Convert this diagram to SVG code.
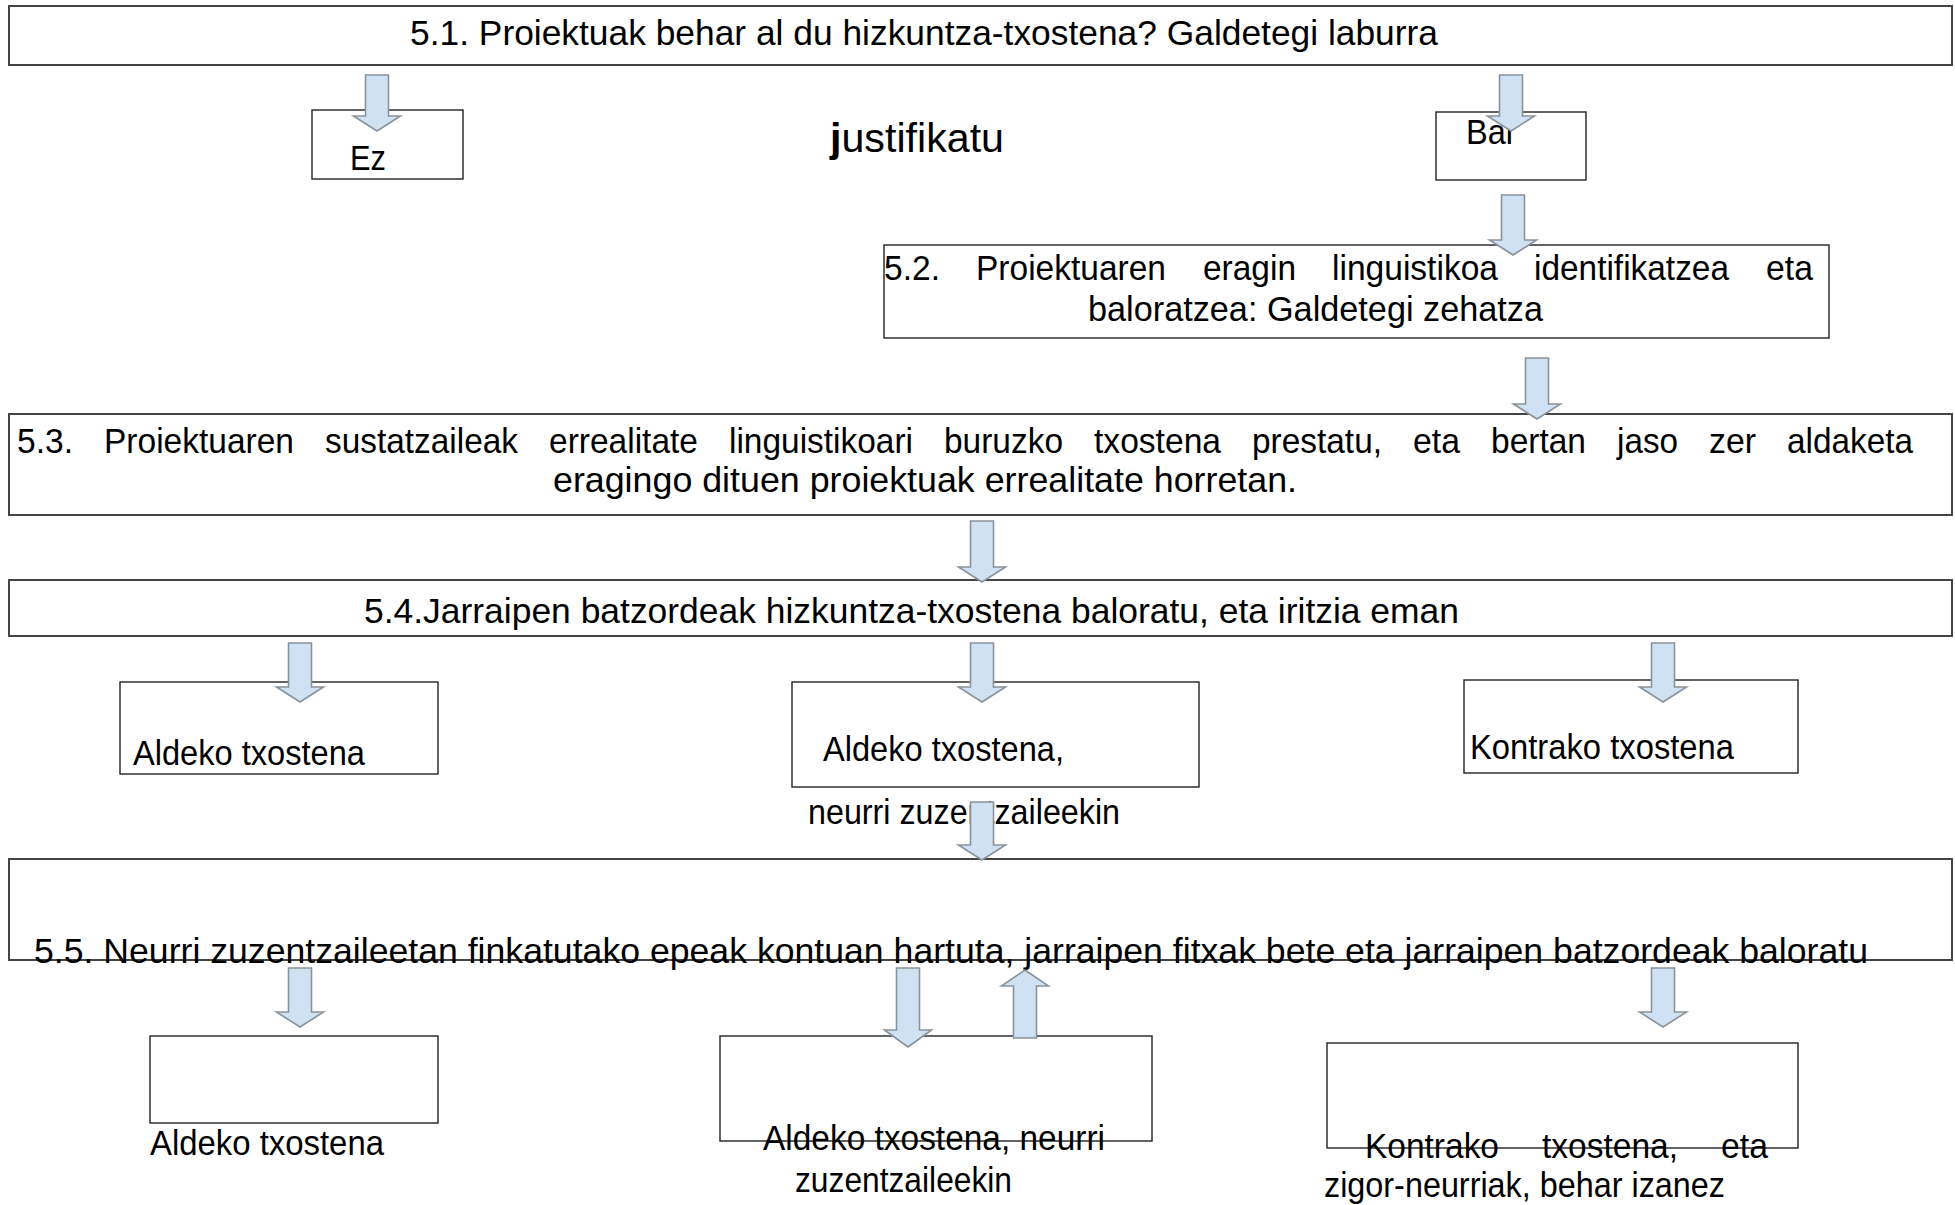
<svg xmlns="http://www.w3.org/2000/svg" width="1955" height="1205" viewBox="0 0 1955 1205">
<style>
.bx{fill:#fff;stroke:#222;stroke-width:1.4}
.bg{fill:#fff;stroke:#444;stroke-width:2}
.t{font-family:"Liberation Sans",Arial,sans-serif;font-size:35px;fill:#000}
.ar{fill:#cfe2f3;stroke:#8a9299;stroke-width:1.6;stroke-linejoin:miter}
</style>
<rect width="1955" height="1205" fill="#fff"/>
<g id="n51"><rect class="bg" x="9" y="6" width="1943" height="59"/><text class="t" x="410" y="45" textLength="1028" lengthAdjust="spacingAndGlyphs">5.1. Proiektuak behar al du hizkuntza-txostena? Galdetegi laburra</text></g>
<g id="ez"><rect class="bx" x="312" y="110" width="151" height="69"/><text class="t" x="350" y="170" textLength="36" lengthAdjust="spacingAndGlyphs">Ez</text></g>
<g id="justifikatu"><text class="t" x="830" y="152" style="font-size:41px" textLength="174" lengthAdjust="spacingAndGlyphs"><tspan font-weight="bold">j</tspan>ustifikatu</text></g>
<g id="bai"><rect class="bx" x="1436" y="112" width="150" height="68"/><text class="t" x="1466" y="144" textLength="47" lengthAdjust="spacingAndGlyphs">Bai</text></g>
<g id="n52"><rect class="bx" x="884" y="245" width="945" height="93"/>
<text class="t" x="884" y="280" textLength="56" lengthAdjust="spacingAndGlyphs">5.2.</text>
<text class="t" x="976" y="280" textLength="190" lengthAdjust="spacingAndGlyphs">Proiektuaren</text>
<text class="t" x="1203" y="280" textLength="93" lengthAdjust="spacingAndGlyphs">eragin</text>
<text class="t" x="1332" y="280" textLength="166" lengthAdjust="spacingAndGlyphs">linguistikoa</text>
<text class="t" x="1534" y="280" textLength="195" lengthAdjust="spacingAndGlyphs">identifikatzea</text>
<text class="t" x="1766" y="280" textLength="47" lengthAdjust="spacingAndGlyphs">eta</text>
<text class="t" x="1088" y="321" textLength="455" lengthAdjust="spacingAndGlyphs">baloratzea: Galdetegi zehatza</text></g>
<g id="n53"><rect class="bg" x="9" y="414" width="1943" height="101"/>
<text class="t" x="17" y="453" textLength="56" lengthAdjust="spacingAndGlyphs">5.3.</text>
<text class="t" x="104" y="453" textLength="190" lengthAdjust="spacingAndGlyphs">Proiektuaren</text>
<text class="t" x="325" y="453" textLength="193" lengthAdjust="spacingAndGlyphs">sustatzaileak</text>
<text class="t" x="549" y="453" textLength="149" lengthAdjust="spacingAndGlyphs">errealitate</text>
<text class="t" x="729" y="453" textLength="184" lengthAdjust="spacingAndGlyphs">linguistikoari</text>
<text class="t" x="944" y="453" textLength="119" lengthAdjust="spacingAndGlyphs">buruzko</text>
<text class="t" x="1094" y="453" textLength="127" lengthAdjust="spacingAndGlyphs">txostena</text>
<text class="t" x="1252" y="453" textLength="130" lengthAdjust="spacingAndGlyphs">prestatu,</text>
<text class="t" x="1413" y="453" textLength="47" lengthAdjust="spacingAndGlyphs">eta</text>
<text class="t" x="1491" y="453" textLength="95" lengthAdjust="spacingAndGlyphs">bertan</text>
<text class="t" x="1617" y="453" textLength="61" lengthAdjust="spacingAndGlyphs">jaso</text>
<text class="t" x="1709" y="453" textLength="47" lengthAdjust="spacingAndGlyphs">zer</text>
<text class="t" x="1787" y="453" textLength="126" lengthAdjust="spacingAndGlyphs">aldaketa</text>
<text class="t" x="553" y="492" textLength="744" lengthAdjust="spacingAndGlyphs">eragingo dituen proiektuak errealitate horretan.</text></g>
<g id="n54"><rect class="bg" x="9" y="580" width="1943" height="56"/><text class="t" x="364" y="623" textLength="1095" lengthAdjust="spacingAndGlyphs">5.4.Jarraipen batzordeak hizkuntza-txostena baloratu, eta iritzia eman</text></g>
<g id="a1"><rect class="bx" x="120" y="682" width="318" height="92"/><text class="t" x="133" y="765" textLength="232" lengthAdjust="spacingAndGlyphs">Aldeko txostena</text></g>
<g id="a2"><rect class="bx" x="792" y="682" width="407" height="105"/><text class="t" x="823" y="761" textLength="241" lengthAdjust="spacingAndGlyphs">Aldeko txostena,</text><text class="t" x="808" y="824" textLength="312" lengthAdjust="spacingAndGlyphs">neurri zuzentzaileekin</text></g>
<g id="k"><rect class="bx" x="1464" y="680" width="334" height="93"/><text class="t" x="1470" y="759" textLength="264" lengthAdjust="spacingAndGlyphs">Kontrako txostena</text></g>
<g id="n55"><rect class="bg" x="9" y="859" width="1943" height="101"/><text class="t" x="34" y="963" textLength="1834" lengthAdjust="spacingAndGlyphs">5.5. Neurri zuzentzaileetan finkatutako epeak kontuan hartuta, jarraipen fitxak bete eta jarraipen batzordeak baloratu</text></g>
<g id="b1"><rect class="bx" x="150" y="1036" width="288" height="87"/><text class="t" x="150" y="1155" textLength="234" lengthAdjust="spacingAndGlyphs">Aldeko txostena</text></g>
<g id="b2"><rect class="bx" x="720" y="1036" width="432" height="105"/><text class="t" x="763" y="1150" textLength="342" lengthAdjust="spacingAndGlyphs">Aldeko txostena, neurri</text><text class="t" x="795" y="1192" textLength="217" lengthAdjust="spacingAndGlyphs">zuzentzaileekin</text></g>
<g id="b3"><rect class="bx" x="1327" y="1043" width="471" height="105"/>
<text class="t" x="1365" y="1158" textLength="134" lengthAdjust="spacingAndGlyphs">Kontrako</text>
<text class="t" x="1542" y="1158" textLength="136" lengthAdjust="spacingAndGlyphs">txostena,</text>
<text class="t" x="1721" y="1158" textLength="47" lengthAdjust="spacingAndGlyphs">eta</text>
<text class="t" x="1324" y="1197" textLength="401" lengthAdjust="spacingAndGlyphs">zigor-neurriak, behar izanez</text></g>
<g id="connectors">
<path class="ar" d="M365.5,75H388.5V116H400.5L377,131L353.5,116H365.5Z"/>
<path class="ar" d="M1499.5,75H1522.5V116H1534.5L1511,131L1487.5,116H1499.5Z"/>
<path class="ar" d="M1501.5,195H1524.5V240H1536.5L1513,255L1489.5,240H1501.5Z"/>
<path class="ar" d="M1525.5,358H1548.5V404H1560.5L1537,419L1513.5,404H1525.5Z"/>
<path class="ar" d="M970.5,521H993.5V567H1005.5L982,582L958.5,567H970.5Z"/>
<path class="ar" d="M288.5,643H311.5V687H323.5L300,702L276.5,687H288.5Z"/>
<path class="ar" d="M970.5,643H993.5V687H1005.5L982,702L958.5,687H970.5Z"/>
<path class="ar" d="M1651.5,643H1674.5V687H1686.5L1663,702L1639.5,687H1651.5Z"/>
<path class="ar" d="M970.5,802H993.5V845H1005.5L982,860L958.5,845H970.5Z"/>
<path class="ar" d="M288.5,968H311.5V1012H323.5L300,1027L276.5,1012H288.5Z"/>
<path class="ar" d="M896.5,968H919.5V1030H931.5L908,1047L884.5,1030H896.5Z"/>
<path class="ar" d="M1651.5,968H1674.5V1012H1686.5L1663,1027L1639.5,1012H1651.5Z"/>
<path class="ar" d="M1013.5,1038H1036.5V986H1048.5L1025,970L1001.5,986H1013.5Z"/>
</g>
</svg>
